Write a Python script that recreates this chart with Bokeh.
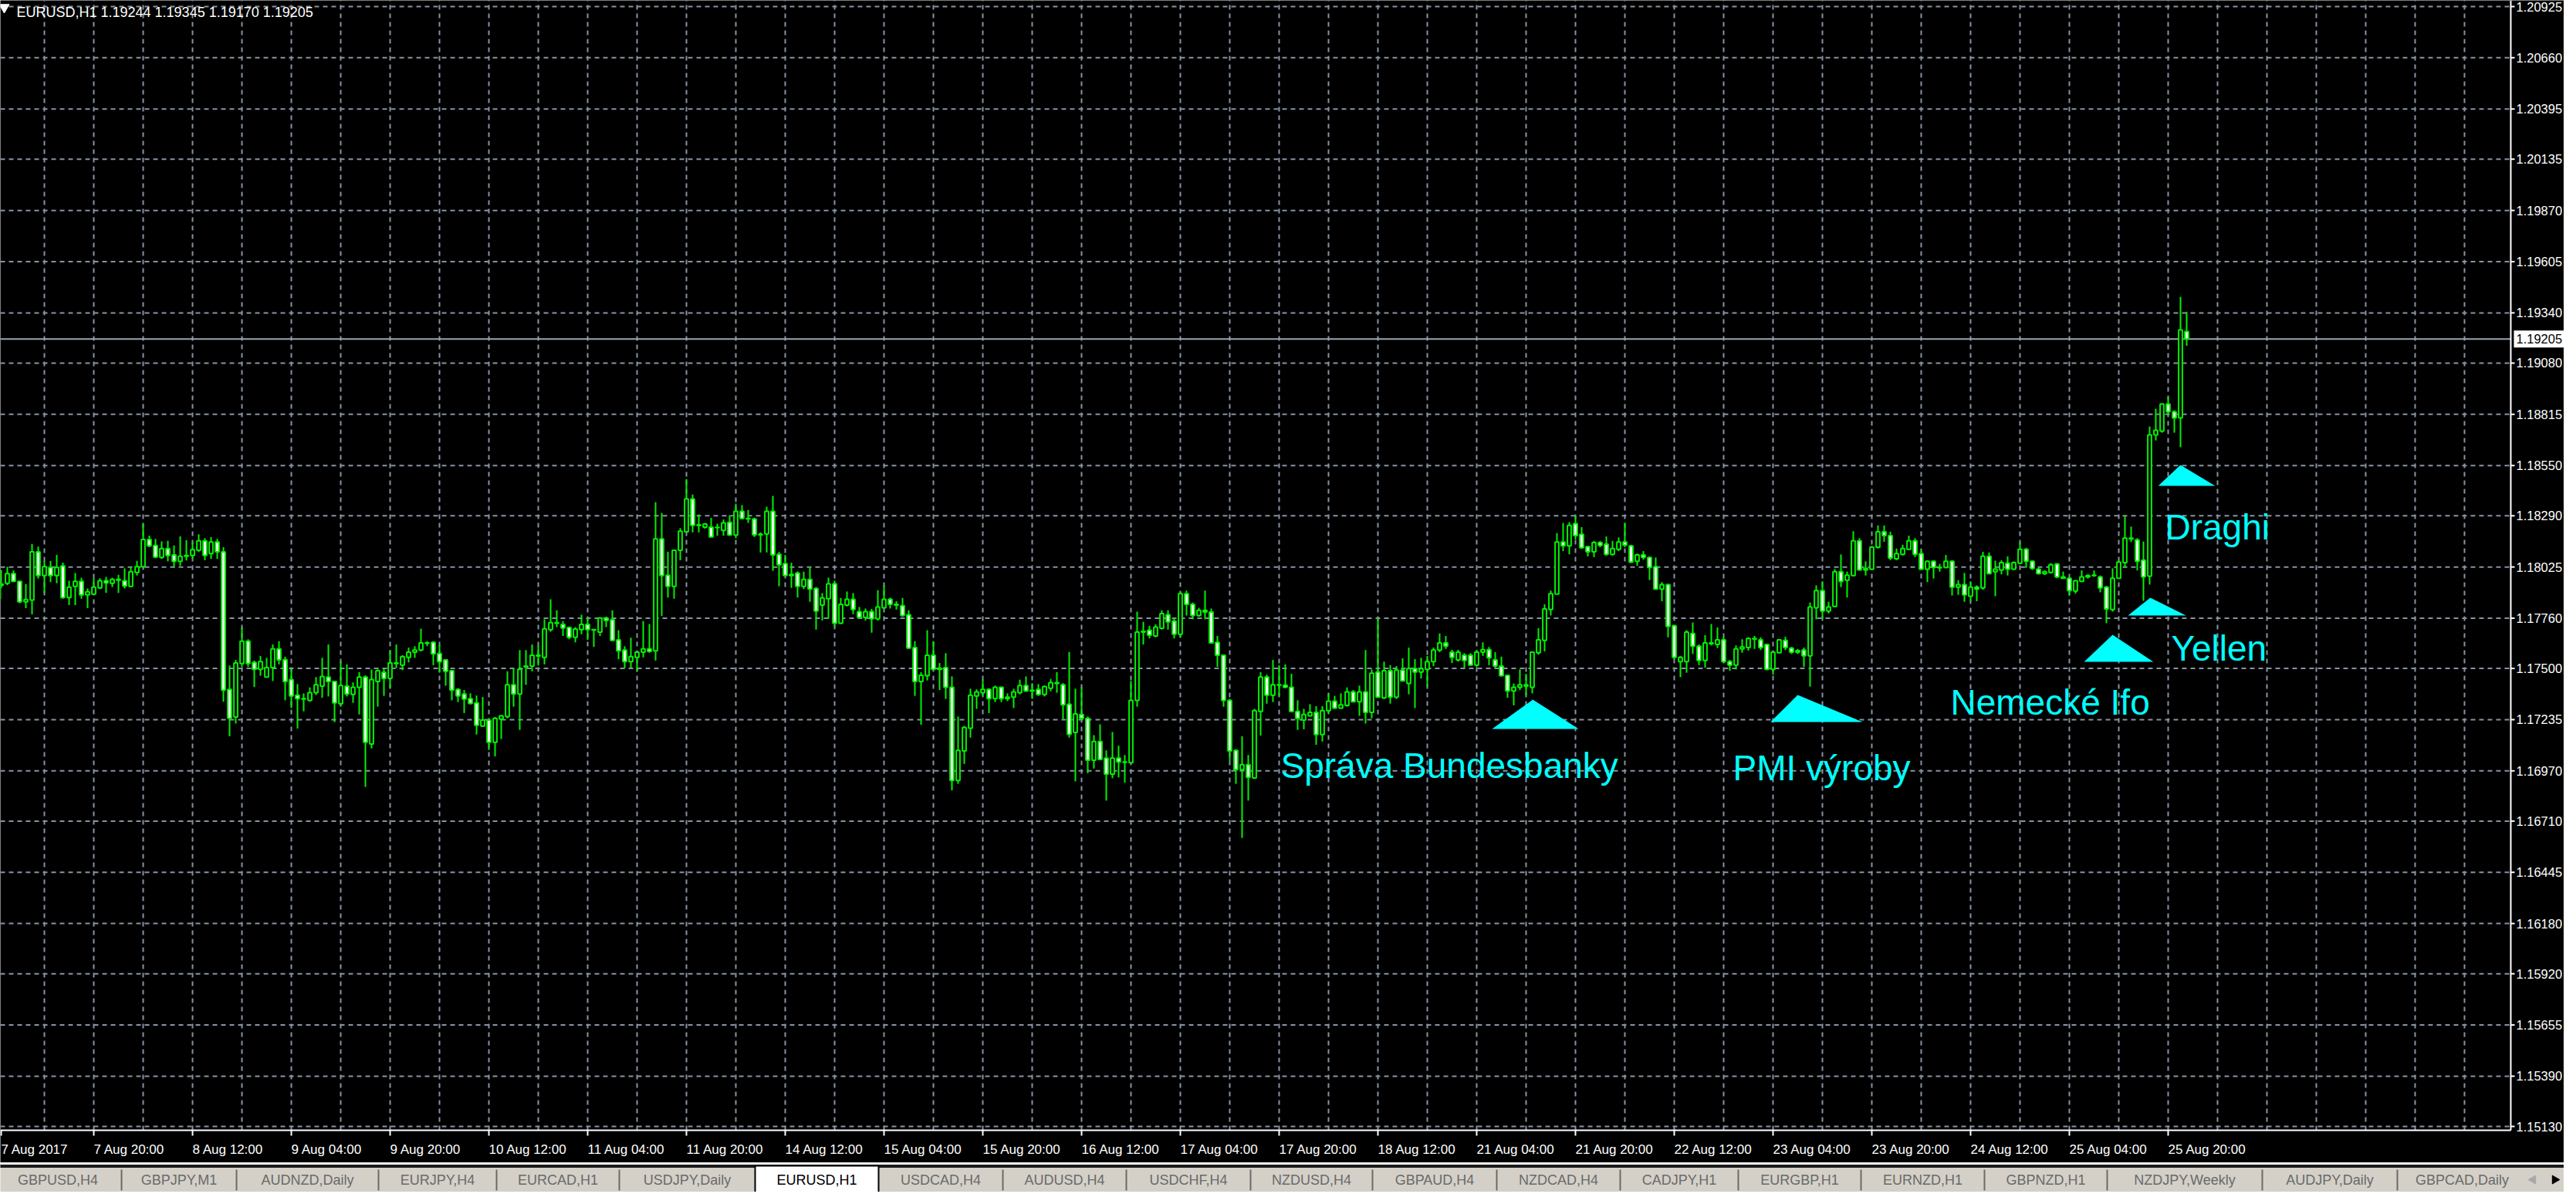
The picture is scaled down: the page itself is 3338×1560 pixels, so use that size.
from bokeh.plotting import figure
from bokeh.models import Range1d, ColumnDataSource
from bokeh.layouts import column
from bokeh.embed import file_html
from bokeh.resources import INLINE
from bokeh.core.properties import value

# ---------------- data: EURUSD H1, hourly bars from 7 Aug 2017 04:00 ----------------
opens = [
 1.17861,1.17930,1.17941,1.17991,1.17951,1.17845,1.17854,1.18103,1.17981,1.18023,
 1.17981,1.18031,1.17867,1.17925,1.17951,1.17881,1.17885,1.17917,1.17954,1.17941,
 1.17961,1.17954,1.17925,1.17997,1.18027,1.18167,1.18136,1.18074,1.18120,1.18087,
 1.18054,1.18080,1.18084,1.18111,1.18160,1.18094,1.18154,1.18103,1.17392,1.17249,
 1.17525,1.17641,1.17531,1.17495,1.17455,1.17504,1.17601,1.17545,1.17442,1.17362,
 1.17344,1.17335,1.17375,1.17408,1.17455,1.17432,1.17318,1.17408,1.17366,1.17402,
 1.17455,1.17109,1.17432,1.17480,1.17448,1.17528,1.17517,1.17557,1.17584,1.17595,
 1.17632,1.17635,1.17577,1.17544,1.17488,1.17392,1.17368,1.17344,1.17322,1.17202,
 1.17233,1.17118,1.17238,1.17251,1.17415,1.17368,1.17508,1.17512,1.17568,1.17557,
 1.17701,1.17737,1.17728,1.17712,1.17661,1.17701,1.17728,1.17701,1.17688,1.17761,
 1.17752,1.17648,1.17595,1.17535,1.17557,1.17584,1.17601,1.17591,1.18170,1.17983,
 1.17925,1.18111,1.18207,1.18377,1.18240,1.18231,1.18231,1.18230,1.18214,1.18256,
 1.18190,1.18313,1.18276,1.18273,1.18191,1.18196,1.18313,1.18090,1.18043,1.17981,
 1.17994,1.17925,1.17961,1.17914,1.17828,1.17861,1.17938,1.17734,1.17828,1.17858,
 1.17794,1.17764,1.17794,1.17757,1.17814,1.17858,1.17832,1.17825,1.17778,1.17608,
 1.17432,1.17462,1.17568,1.17495,1.17504,1.17402,1.16920,1.17073,1.17191,1.17358,
 1.17375,1.17392,1.17344,1.17402,1.17344,1.17352,1.17375,1.17411,1.17384,1.17392,
 1.17366,1.17398,1.17426,1.17415,1.17315,1.17169,1.17262,1.17242,1.17025,1.17122,
 1.17036,1.16953,1.17036,1.17016,1.17012,1.17335,1.17688,1.17698,1.17668,1.17708,
 1.17778,1.17745,1.17677,1.17887,1.17832,1.17774,1.17801,1.17792,1.17635,1.17568,
 1.17335,1.17076,1.16976,1.17002,1.16933,1.17278,1.17455,1.17362,1.17415,1.17413,
 1.17402,1.17278,1.17233,1.17255,1.17273,1.17158,1.17282,1.17331,1.17295,1.17309,
 1.17379,1.17328,1.17379,1.17273,1.17481,1.17348,1.17488,1.17352,1.17491,1.17422,
 1.17499,1.17481,1.17495,1.17535,1.17595,1.17632,1.17584,1.17544,1.17568,1.17568,
 1.17517,1.17584,1.17597,1.17544,1.17512,1.17464,1.17384,1.17402,1.17415,1.17402,
 1.17581,1.17645,1.17805,1.17885,1.18154,1.18134,1.18249,1.18194,1.18130,1.18103,
 1.18151,1.18143,1.18090,1.18116,1.18154,1.18134,1.18054,1.18087,1.18074,1.18027,
 1.17911,1.17934,1.17721,1.17535,1.17535,1.17681,1.17615,1.17541,1.17632,1.17624,
 1.17648,1.17535,1.17517,1.17601,1.17608,1.17655,1.17648,1.17624,1.17495,1.17581,
 1.17645,1.17605,1.17584,1.17595,1.17565,1.17814,1.17903,1.17797,1.17821,1.18001,
 1.17957,1.17981,1.18160,1.18010,1.18014,1.18127,1.18207,1.18187,1.18067,1.18090,
 1.18116,1.18160,1.18094,1.18014,1.18054,1.18023,1.18023,1.18054,1.17921,1.17934,
 1.17874,1.17921,1.17917,1.18080,1.18001,1.18010,1.18045,1.18014,1.18045,1.18116,
 1.18054,1.18014,1.17991,1.17997,1.18041,1.17974,1.17967,1.17901,1.17951,1.17974,
 1.17981,1.17974,1.17921,1.17805,1.17967,1.18047,1.18174,1.18165,1.18060,1.17978,
 1.18708,1.18728,1.18868,1.18828,1.18796,1.19244]
highs = [
 1.17934,1.18010,1.18027,1.18007,1.17954,1.17937,1.18144,1.18130,1.18056,1.18056,
 1.18087,1.18047,1.17954,1.17994,1.17970,1.17914,1.17967,1.17967,1.17974,1.17970,
 1.17985,1.18018,1.18023,1.18056,1.18249,1.18187,1.18170,1.18157,1.18160,1.18136,
 1.18183,1.18163,1.18154,1.18194,1.18174,1.18180,1.18170,1.18127,1.17515,1.17544,
 1.17712,1.17651,1.17541,1.17565,1.17555,1.17624,1.17641,1.17561,1.17501,1.17419,
 1.17371,1.17402,1.17455,1.17555,1.17624,1.17435,1.17537,1.17521,1.17428,1.17481,
 1.17464,1.17495,1.17495,1.17501,1.17595,1.17624,1.17568,1.17608,1.17615,1.17706,
 1.17641,1.17641,1.17624,1.17548,1.17491,1.17398,1.17388,1.17371,1.17360,1.17352,
 1.17242,1.17249,1.17259,1.17485,1.17499,1.17595,1.17595,1.17624,1.17619,1.17754,
 1.17858,1.17801,1.17745,1.17717,1.17714,1.17778,1.17761,1.17704,1.17765,1.17768,
 1.17801,1.17698,1.17615,1.17659,1.17588,1.17745,1.17730,1.18360,1.18304,1.18104,
 1.18114,1.18226,1.18480,1.18400,1.18297,1.18253,1.18279,1.18249,1.18271,1.18293,
 1.18353,1.18345,1.18320,1.18280,1.18204,1.18337,1.18393,1.18103,1.18087,1.18047,
 1.18002,1.18001,1.18026,1.17921,1.17890,1.17970,1.17954,1.17865,1.17898,1.17890,
 1.17818,1.17810,1.17808,1.17905,1.17930,1.17866,1.17848,1.17865,1.17801,1.17641,
 1.17481,1.17698,1.17641,1.17528,1.17579,1.17459,1.17251,1.17202,1.17395,1.17392,
 1.17442,1.17398,1.17411,1.17406,1.17371,1.17395,1.17442,1.17459,1.17424,1.17419,
 1.17411,1.17446,1.17481,1.17424,1.17585,1.17395,1.17402,1.17251,1.17155,1.17211,
 1.17076,1.17171,1.17100,1.17052,1.17435,1.17794,1.17741,1.17721,1.17728,1.17801,
 1.17801,1.17761,1.17898,1.17903,1.17841,1.17814,1.17903,1.17810,1.17668,1.17571,
 1.17342,1.17082,1.17149,1.17052,1.17291,1.17481,1.17468,1.17544,1.17517,1.17521,
 1.17472,1.17335,1.17291,1.17315,1.17305,1.17305,1.17371,1.17358,1.17371,1.17402,
 1.17388,1.17411,1.17595,1.17495,1.17758,1.17535,1.17517,1.17512,1.17552,1.17608,
 1.17548,1.17555,1.17565,1.17608,1.17681,1.17668,1.17597,1.17597,1.17579,1.17579,
 1.17595,1.17635,1.17611,1.17584,1.17561,1.17468,1.17422,1.17495,1.17472,1.17588,
 1.17708,1.17832,1.17903,1.18200,1.18253,1.18257,1.18289,1.18231,1.18134,1.18160,
 1.18160,1.18183,1.18160,1.18178,1.18253,1.18140,1.18094,1.18107,1.18080,1.18074,
 1.17947,1.17938,1.17725,1.17565,1.17698,1.17738,1.17624,1.17672,1.17730,1.17712,
 1.17661,1.17544,1.17619,1.17651,1.17661,1.17668,1.17661,1.17628,1.17588,1.17651,
 1.17664,1.17611,1.17601,1.17608,1.17841,1.17930,1.17951,1.17845,1.18014,1.18090,
 1.18001,1.18210,1.18174,1.18054,1.18134,1.18240,1.18240,1.18207,1.18120,1.18140,
 1.18187,1.18174,1.18114,1.18060,1.18060,1.18041,1.18087,1.18060,1.17957,1.17994,
 1.17951,1.17930,1.18103,1.18100,1.18058,1.18060,1.18080,1.18054,1.18154,1.18124,
 1.18060,1.18021,1.18007,1.18045,1.18045,1.18001,1.17974,1.17957,1.18007,1.17987,
 1.18007,1.17981,1.17927,1.18018,1.18058,1.18289,1.18234,1.18174,1.18157,1.18752,
 1.18844,1.18872,1.18904,1.18836,1.19423,1.19345]
lows = [
 1.17847,1.17917,1.17931,1.17947,1.17838,1.17812,1.17780,1.17965,1.17891,1.17947,
 1.17941,1.17861,1.17828,1.17828,1.17861,1.17812,1.17881,1.17911,1.17891,1.17921,
 1.17891,1.17914,1.17921,1.17981,1.18021,1.18127,1.18070,1.18067,1.18054,1.18021,
 1.18031,1.18058,1.18067,1.18103,1.18060,1.18067,1.18067,1.17328,1.17149,1.17215,
 1.17508,1.17508,1.17404,1.17462,1.17452,1.17435,1.17521,1.17335,1.17295,1.17189,
 1.17278,1.17328,1.17362,1.17348,1.17355,1.17222,1.17302,1.17355,1.17322,1.17262,
 1.16887,1.17086,1.17302,1.17358,1.17398,1.17501,1.17491,1.17531,1.17555,1.17588,
 1.17615,1.17517,1.17478,1.17411,1.17335,1.17326,1.17269,1.17315,1.17158,1.17198,
 1.17078,1.17045,1.17135,1.17242,1.17302,1.17182,1.17415,1.17485,1.17515,1.17521,
 1.17690,1.17714,1.17668,1.17651,1.17635,1.17677,1.17648,1.17611,1.17668,1.17714,
 1.17641,1.17548,1.17501,1.17504,1.17485,1.17557,1.17581,1.17541,1.17772,1.17867,
 1.17861,1.18060,1.18204,1.18204,1.18204,1.18223,1.18180,1.18187,1.18187,1.18187,
 1.18174,1.18271,1.18253,1.18180,1.18100,1.18100,1.18005,1.17925,1.17978,1.17917,
 1.17867,1.17911,1.17845,1.17701,1.17748,1.17757,1.17714,1.17730,1.17821,1.17781,
 1.17757,1.17748,1.17685,1.17748,1.17810,1.17810,1.17805,1.17768,1.17601,1.17358,
 1.17209,1.17438,1.17491,1.17388,1.17342,1.16869,1.16903,1.17006,1.17142,1.17291,
 1.17358,1.17269,1.17326,1.17326,1.17331,1.17295,1.17366,1.17379,1.17342,1.17358,
 1.17355,1.17382,1.17374,1.17238,1.17142,1.16916,1.17233,1.16958,1.16982,1.17029,
 1.16816,1.16932,1.16936,1.16909,1.17009,1.17302,1.17624,1.17655,1.17661,1.17701,
 1.17701,1.17655,1.17661,1.17774,1.17754,1.17768,1.17754,1.17628,1.17508,1.17302,
 1.17022,1.16903,1.16623,1.16816,1.16929,1.17153,1.17318,1.17326,1.17358,1.17398,
 1.17273,1.17182,1.17185,1.17251,1.17105,1.17122,1.17269,1.17291,1.17291,1.17302,
 1.17326,1.17255,1.17215,1.17242,1.17348,1.17342,1.17318,1.17342,1.17435,1.17366,
 1.17295,1.17448,1.17406,1.17512,1.17584,1.17601,1.17528,1.17535,1.17501,1.17515,
 1.17508,1.17565,1.17517,1.17504,1.17459,1.17348,1.17309,1.17388,1.17362,1.17371,
 1.17571,1.17588,1.17774,1.17885,1.18107,1.18090,1.18167,1.18120,1.18080,1.18076,
 1.18127,1.18084,1.18084,1.18107,1.18127,1.18045,1.18031,1.18063,1.17957,1.17907,
 1.17848,1.17661,1.17548,1.17455,1.17478,1.17575,1.17517,1.17504,1.17619,1.17605,
 1.17528,1.17488,1.17495,1.17581,1.17592,1.17601,1.17595,1.17491,1.17468,1.17579,
 1.17595,1.17575,1.17575,1.17508,1.17406,1.17754,1.17757,1.17784,1.17818,1.17921,
 1.17867,1.17978,1.18007,1.17981,1.18010,1.18120,1.18156,1.18060,1.18060,1.18084,
 1.18114,1.18076,1.18010,1.17947,1.17965,1.18001,1.18018,1.17877,1.17881,1.17845,
 1.17848,1.17848,1.17907,1.17987,1.17874,1.17987,1.17981,1.18010,1.18041,1.18021,
 1.18010,1.17987,1.17983,1.17991,1.17967,1.17965,1.17877,1.17887,1.17947,1.17965,
 1.17974,1.17894,1.17734,1.17794,1.17965,1.18021,1.18154,1.18007,1.17850,1.17934,
 1.18680,1.18720,1.18812,1.18720,1.18645,1.19170]
closes = [
 1.17930,1.17937,1.17991,1.17951,1.17845,1.17857,1.18103,1.17981,1.18027,1.17981,
 1.18023,1.17867,1.17921,1.17951,1.17881,1.17897,1.17921,1.17954,1.17943,1.17961,
 1.17957,1.17927,1.18001,1.18027,1.18167,1.18134,1.18076,1.18120,1.18084,1.18054,
 1.18080,1.18084,1.18114,1.18160,1.18084,1.18154,1.18103,1.17388,1.17242,1.17528,
 1.17641,1.17525,1.17495,1.17535,1.17504,1.17601,1.17544,1.17432,1.17358,1.17344,
 1.17342,1.17375,1.17415,1.17458,1.17432,1.17322,1.17411,1.17368,1.17402,1.17455,
 1.17118,1.17442,1.17488,1.17448,1.17528,1.17525,1.17561,1.17584,1.17595,1.17632,
 1.17630,1.17575,1.17535,1.17485,1.17388,1.17358,1.17342,1.17319,1.17206,1.17233,
 1.17118,1.17242,1.17255,1.17415,1.17368,1.17495,1.17512,1.17568,1.17564,1.17705,
 1.17737,1.17734,1.17709,1.17661,1.17704,1.17728,1.17701,1.17699,1.17761,1.17748,
 1.17645,1.17591,1.17535,1.17561,1.17584,1.17601,1.17588,1.18170,1.17981,1.17925,
 1.18111,1.18210,1.18377,1.18240,1.18243,1.18247,1.18180,1.18229,1.18253,1.18190,
 1.18313,1.18276,1.18274,1.18191,1.18194,1.18313,1.18087,1.18037,1.17981,1.17987,
 1.17925,1.17961,1.17911,1.17797,1.17865,1.17938,1.17734,1.17832,1.17858,1.17805,
 1.17764,1.17794,1.17757,1.17818,1.17858,1.17832,1.17828,1.17774,1.17605,1.17432,
 1.17464,1.17568,1.17495,1.17501,1.17402,1.16920,1.17076,1.17195,1.17362,1.17379,
 1.17392,1.17344,1.17402,1.17344,1.17352,1.17379,1.17411,1.17384,1.17388,1.17366,
 1.17406,1.17426,1.17422,1.17312,1.17159,1.17265,1.17242,1.17025,1.17122,1.17029,
 1.16953,1.17036,1.17016,1.17014,1.17335,1.17688,1.17692,1.17672,1.17714,1.17784,
 1.17741,1.17677,1.17887,1.17832,1.17774,1.17801,1.17792,1.17632,1.17568,1.17335,
 1.17073,1.16976,1.17002,1.16936,1.17282,1.17455,1.17362,1.17415,1.17413,1.17402,
 1.17278,1.17242,1.17262,1.17273,1.17158,1.17282,1.17331,1.17295,1.17312,1.17379,
 1.17328,1.17379,1.17273,1.17475,1.17352,1.17488,1.17352,1.17491,1.17435,1.17499,
 1.17481,1.17499,1.17535,1.17595,1.17632,1.17615,1.17557,1.17584,1.17541,1.17517,
 1.17584,1.17597,1.17555,1.17512,1.17462,1.17384,1.17402,1.17415,1.17408,1.17584,
 1.17648,1.17808,1.17887,1.18154,1.18134,1.18240,1.18187,1.18124,1.18103,1.18151,
 1.18136,1.18090,1.18120,1.18154,1.18138,1.18050,1.18087,1.18074,1.18023,1.17911,
 1.17934,1.17717,1.17557,1.17557,1.17688,1.17615,1.17541,1.17632,1.17628,1.17648,
 1.17535,1.17517,1.17601,1.17611,1.17655,1.17652,1.17608,1.17495,1.17584,1.17648,
 1.17608,1.17584,1.17592,1.17565,1.17818,1.17903,1.17797,1.17818,1.18001,1.17951,
 1.17983,1.18160,1.18010,1.18018,1.18127,1.18207,1.18187,1.18071,1.18094,1.18120,
 1.18160,1.18090,1.18014,1.18054,1.18023,1.18021,1.18054,1.17921,1.17934,1.17881,
 1.17921,1.17911,1.18080,1.17991,1.18014,1.18047,1.18014,1.18047,1.18116,1.18054,
 1.18018,1.17991,1.18001,1.18037,1.17974,1.17967,1.17903,1.17954,1.17974,1.17981,
 1.17983,1.17917,1.17808,1.17967,1.18050,1.18174,1.18170,1.18054,1.17974,1.18708,
 1.18732,1.18868,1.18828,1.18796,1.19252,1.19205]

symbol = "EURUSD,H1"
current_price = 1.19205

# time-scale labels (bar numbers counted from 7 Aug 2017 04:00)
time_tick_bars = [1, 16, 32, 48, 64, 80, 96, 112, 128, 144, 160, 176, 192, 208,
                  224, 240, 256, 272, 288, 304, 320, 336, 352]
time_tick_labels = ["7 Aug 2017", "7 Aug 20:00", "8 Aug 12:00", "9 Aug 04:00", "9 Aug 20:00",
                    "10 Aug 12:00", "11 Aug 04:00", "11 Aug 20:00", "14 Aug 12:00",
                    "15 Aug 04:00", "15 Aug 20:00", "16 Aug 12:00", "17 Aug 04:00",
                    "17 Aug 20:00", "18 Aug 12:00", "21 Aug 04:00", "21 Aug 20:00",
                    "22 Aug 12:00", "23 Aug 04:00", "23 Aug 20:00", "24 Aug 12:00",
                    "25 Aug 04:00", "25 Aug 20:00"]
price_ticks = [1.20925, 1.20660, 1.20395, 1.20135, 1.19870, 1.19605, 1.19340, 1.19080,
               1.18815, 1.18550, 1.18290, 1.18025, 1.17760, 1.17500, 1.17235, 1.16970,
               1.16710, 1.16445, 1.16180, 1.15920, 1.15655, 1.15390, 1.15130]

# news annotations
event_names = ["Správa Bundesbanky", "PMI výroby", "Nemecké Ifo", "Yellen", "Draghi"]
event_text_bar = [208.25, 281.5, 316.75, 352.5, 351.5]
event_text_price = [1.16999, 1.16987, 1.17323, 1.17606, 1.18233]
marker_apex_bar = [249.1, 292.0, 343.0, 349.1, 354.0]
marker_apex_price = [1.17339, 1.17363, 1.17674, 1.17866, 1.18553]
marker_base_price = [1.17187, 1.17223, 1.17534, 1.17774, 1.18445]
marker_left_bar = [242.5, 287.6, 338.4, 345.5, 350.4]
marker_right_bar = [256.5, 302.5, 349.6, 354.9, 359.6]

tab_names = ["GBPUSD,H4", "GBPJPY,M1", "AUDNZD,Daily", "EURJPY,H4", "EURCAD,H1",
             "USDJPY,Daily", "EURUSD,H1", "USDCAD,H4", "AUDUSD,H4", "USDCHF,H4",
             "NZDUSD,H4", "GBPAUD,H4", "NZDCAD,H4", "CADJPY,H1", "EURGBP,H1",
             "EURNZD,H1", "GBPNZD,H1", "NZDJPY,Weekly", "AUDJPY,Daily", "GBPCAD,Daily"]
active_tab = "EURUSD,H1"

# ---------------- layout / styling ----------------
LIME = "#00f000"
GRID = "#8793a3"
CYAN = "#00ffff"
FONT = "Liberation Sans"
PX_BAR = 8.0          # screen pixels per hourly bar
PX_PRICE = 25039.0    # screen pixels per 1.0 of price
X_LEFT, X_RIGHT = 0.875, 416.125          # visible bar range of the page
CHART_RIGHT = 407.5                        # right border of the chart area (bars)
Y_TOP, Y_BOTTOM = 1.209570, 1.149423       # visible price range of the page
CHART_BOTTOM = 1.151101                    # bottom border of the chart area (price)


def px_x(px):
    return px / PX_BAR


def px_y(px):
    return px / PX_PRICE


n = len(opens)
src = ColumnDataSource(dict(
    x=list(range(n)),
    top=[max(a, b) for a, b in zip(opens, closes)],
    bot=[min(a, b) for a, b in zip(opens, closes)],
    hi=[max(a, b, d) for a, b, d in zip(highs, opens, closes)],
    lo=[min(a, b, d) for a, b, d in zip(lows, opens, closes)],
    fill=["white" if cc < oo else "black" for oo, cc in zip(opens, closes)],
))

p = figure(width=3322, height=1506, x_range=Range1d(X_LEFT, X_RIGHT),
           y_range=Range1d(Y_BOTTOM, Y_TOP), output_backend="svg",
           toolbar_location=None, x_axis_location=None, y_axis_location=None,
           min_border=0, background_fill_color="black", border_fill_color="black",
           outline_line_color=None)
p.grid.visible = False

# dotted grid inside the chart area
vgrid = list(range(8, int(CHART_RIGHT), 8))
p.segment(x0=vgrid, y0=[CHART_BOTTOM] * len(vgrid), x1=vgrid, y1=[Y_TOP] * len(vgrid),
          line_color=GRID, line_width=2, line_dash="6 5")
p.segment(x0=[X_LEFT] * len(price_ticks), y0=price_ticks,
          x1=[CHART_RIGHT] * len(price_ticks), y1=price_ticks,
          line_color=GRID, line_width=2, line_dash="6 5")

# current bid line
p.segment(x0=[X_LEFT], y0=[current_price], x1=[CHART_RIGHT], y1=[current_price],
          line_color="#9aa4b0", line_width=2)

# candles
p.segment(x0="x", y0="lo", x1="x", y1="hi", source=src, line_color=LIME, line_width=2)
p.vbar(x="x", width=0.6, top="top", bottom="bot", source=src, fill_color="fill",
       line_color=LIME, line_width=2)

# news markers
p.patches(xs=[[a, m, b] for a, m, b in zip(marker_left_bar, marker_apex_bar, marker_right_bar)],
          ys=[[bp, ap, bp] for ap, bp in zip(marker_apex_price, marker_base_price)],
          fill_color=CYAN, line_color=None)
p.text(x=event_text_bar, y=event_text_price, text=event_names, text_color=CYAN,
       text_font=value(FONT), text_font_size="46px", text_align="left",
       text_baseline="alphabetic")

# chart border (price scale on the right, time scale below)
p.segment(x0=[CHART_RIGHT, X_LEFT], y0=[CHART_BOTTOM, CHART_BOTTOM],
          x1=[CHART_RIGHT, CHART_RIGHT], y1=[Y_TOP, CHART_BOTTOM],
          line_color="white", line_width=2)

# price scale
p.segment(x0=[CHART_RIGHT] * len(price_ticks), y0=price_ticks,
          x1=[CHART_RIGHT + px_x(5)] * len(price_ticks), y1=price_ticks,
          line_color="white", line_width=2)
p.text(x=[CHART_RIGHT + px_x(7)] * len(price_ticks), y=price_ticks,
       text=[f"{v:.5f}" for v in price_ticks], text_color="white",
       text_font=value(FONT), text_font_size="16.5px", text_align="left",
       text_baseline="middle")
p.quad(left=[CHART_RIGHT + px_x(4)], right=[X_RIGHT],
       top=[current_price + px_y(11)], bottom=[current_price - px_y(11)],
       fill_color="white", line_color=None)
p.text(x=[CHART_RIGHT + px_x(7)], y=[current_price], text=[f"{current_price:.5f}"],
       text_color="black", text_font=value(FONT), text_font_size="16.5px",
       text_align="left", text_baseline="middle")

# time scale
p.segment(x0=time_tick_bars, y0=[CHART_BOTTOM] * len(time_tick_bars),
          x1=time_tick_bars, y1=[CHART_BOTTOM - px_y(7)] * len(time_tick_bars),
          line_color="white", line_width=2)
p.text(x=time_tick_bars, y=[CHART_BOTTOM - px_y(25)] * len(time_tick_bars),
       text=time_tick_labels, text_color="white", text_font=value(FONT),
       text_font_size="17px", text_align="left", text_baseline="alphabetic")

# header
p.scatter(x=[1.5], y=[Y_TOP - px_y(9)], marker="inverted_triangle", size=13, color="white")
p.text(x=[3.5], y=[Y_TOP - px_y(16)],
       text=[f"{symbol}  {opens[-1]:.5f} {highs[-1]:.5f} {lows[-1]:.5f} {closes[-1]:.5f}"],
       text_color="white", text_font=value(FONT), text_font_size="18px",
       text_align="left", text_baseline="alphabetic")

# ---------------- tab bar ----------------
tab_edges = [0, 165, 314, 498, 651, 810, 986, 1146, 1307, 1467, 1628, 1786, 1947,
             2107, 2260, 2419, 2579, 2738, 2939, 3114, 3282]
t = figure(width=3322, height=38, x_range=Range1d(8, 3330), y_range=Range1d(1552, 1514),
           output_backend="svg", toolbar_location=None, x_axis_location=None,
           y_axis_location=None, min_border=0, background_fill_color="#d4d0c8",
           border_fill_color="#d4d0c8", outline_line_color=None)
t.grid.visible = False
t.quad(left=[0], right=[3340], top=[1514], bottom=[1516.5], color="#f4f4f4")
t.quad(left=[0], right=[3340], top=[1517], bottom=[1520], color="#1a1a1a")
ai = tab_names.index(active_tab)
t.quad(left=[tab_edges[ai]], right=[tab_edges[ai + 1]], top=[1518], bottom=[1560],
       fill_color="white", line_color="black", line_width=2)
seps = [e for k, e in enumerate(tab_edges[1:-1], start=1) if k not in (ai, ai + 1)]
t.segment(x0=seps, y0=[1523] * len(seps), x1=seps, y1=[1550] * len(seps),
          line_color="#6a6a6a", line_width=2)
centers = [(a + b) / 2 for a, b in zip(tab_edges[:-1], tab_edges[1:])]
t.text(x=centers, y=[1536] * len(centers), text=tab_names,
       text_color=["black" if nm == active_tab else "#6a6a6a" for nm in tab_names],
       text_font=value(FONT), text_font_size="18px", text_align="center",
       text_baseline="middle")
t.scatter(x=[3290, 3318], y=[1536, 1536], marker="triangle", size=11,
          angle=[1.5708, -1.5708], color=["#a8a8a8", "black"])

layout = column(p, t, spacing=0)
open("out.html", "w").write(file_html(layout, INLINE))
